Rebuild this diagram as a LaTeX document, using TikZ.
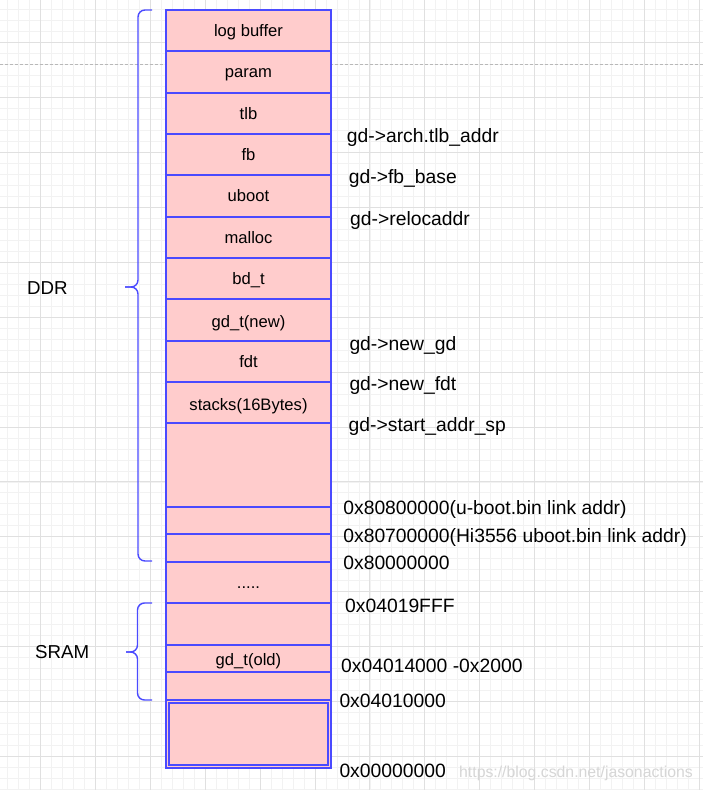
\documentclass[tikz,border=0pt]{standalone}
\usepackage{fontspec}
\setmainfont{Liberation Sans}
\definecolor{bl}{HTML}{4A4AFF}
\definecolor{pk}{HTML}{FFCCCC}
\definecolor{gminor}{HTML}{F2F2F2}
\definecolor{gmajor}{HTML}{E0E0E0}
\definecolor{dashc}{HTML}{B8B8B8}
\definecolor{wm}{HTML}{D6D6D6}
\begin{document}
\begin{tikzpicture}[x=1bp,y=-1bp,
  gridminor/.style={draw=gminor,line width=0.8bp},
  gridmajor/.style={draw=gmajor,line width=0.9bp},
  rowbox/.style={draw=bl,fill=pk,line width=2bp},
  brace/.style={draw=bl,line width=1.4bp,rounded corners=7bp},
  lbl/.style={font=\fontsize{16.6bp}{18bp}\selectfont,anchor=base,inner sep=0pt},
  addr/.style={font=\fontsize{19.3bp}{21bp}\selectfont,anchor=base west,inner sep=0pt},
  side/.style={font=\fontsize{18.7bp}{20bp}\selectfont,anchor=base west,inner sep=0pt}]
\useasboundingbox (0,0) rectangle (703,790);
\fill[white] (0,0) rectangle (703,790);
% grid
\foreach \i in {-3,...,60} \draw[gridminor] ({40.5+10.98*\i},0) -- ({40.5+10.98*\i},790);
\foreach \i in {-3,...,68} \draw[gridminor] (0,{42.7+10.98*\i}) -- (703,{42.7+10.98*\i});
\foreach \i in {-1,...,12} \draw[gridmajor] ({40.5+54.9*\i},0) -- ({40.5+54.9*\i},790);
\foreach \i in {-1,...,14} \draw[gridmajor] (0,{42.7+54.9*\i}) -- (703,{42.7+54.9*\i});
% dashed page line
\draw[dashc,line width=0.9bp,dash pattern=on 3bp off 2bp] (0,64.3) -- (703,64.3);
% memory rows
\foreach \a/\b in {10/51,51/93,93/134,134/175,175/217,217/258,258/299,299/341,341/382,382/423,423/507,507/534,534/562,562/603,603/645,645/672,672/700}
  \draw[rowbox] (166,\a) rectangle (331,\b);
\draw[rowbox] (166,700) rectangle (331,768);
\draw[draw=bl,line width=1.5bp] (169,703) rectangle (328,765);
% row labels
\node[lbl] (l1) at (248.5,36.7) {log buffer};
\node[lbl] (l2) at (248.5,77.7) {param};
\node[lbl] (l3) at (248.5,119.7) {tlb};
\node[lbl] (l4) at (248.5,160.7) {fb};
\node[lbl] (l5) at (248.5,201.7) {uboot};
\node[lbl] (l6) at (248.5,243.7) {malloc};
\node[lbl] (l7) at (248.5,284.7) {bd\_t};
\node[lbl] (l8) at (248.5,327.7) {gd\_t(new)};
\node[lbl] (l9) at (248.5,367.7) {fdt};
\node[lbl] (l10) at (248.5,410.7) {stacks(16Bytes)};
\node[lbl] (l11) at (248.5,588) {.....};
\node[lbl] (l12) at (248.5,665.7) {gd\_t(old)};
% braces
\draw[brace] (152,10) -- (138,10) -- (138,287) -- (125,287);
\draw[brace] (125,287) -- (138,287) -- (138,561) -- (152,561);
\draw[brace] (152,603) -- (137.5,603) -- (137.5,652) -- (126,652);
\draw[brace] (126,652) -- (137.5,652) -- (137.5,700) -- (152,700);
\node[side] (ddr) at (27,294.7) {DDR};
\node[side] (sram) at (35,658.7) {SRAM};
% address labels
\node[addr] (a1) at (346.7,142.5) {gd->arch.tlb\_addr};
\node[addr] (a2) at (348.7,183.3) {gd->fb\_base};
\node[addr] (a3) at (350,225) {gd->relocaddr};
\node[addr] (a4) at (349.3,350) {gd->new\_gd};
\node[addr] (a5) at (349.3,390.7) {gd->new\_fdt};
\node[addr] (a6) at (348.5,431.5) {gd->start\_addr\_sp};
\node[addr] (a7) at (343.2,514.2) {0x80800000(u-boot.bin link addr)};
\node[addr] (a8) at (343.2,542) {0x80700000(Hi3556 uboot.bin link addr)};
\node[addr] (a9) at (343.2,569.3) {0x80000000};
\node[addr] (a10) at (345,612) {0x04019FFF};
\node[addr] (a11) at (341,672.7) {0x04014000 -0x2000};
\node[addr] (a12) at (339.3,707.7) {0x04010000};
\node[addr] (a13) at (339.3,777) {0x00000000};
\node[anchor=base west,inner sep=0pt,text=wm,font=\fontsize{15.8bp}{17bp}\selectfont] (wmk) at (459,777) {https://blog.csdn.net/jasonactions};
\end{tikzpicture}
\end{document}
